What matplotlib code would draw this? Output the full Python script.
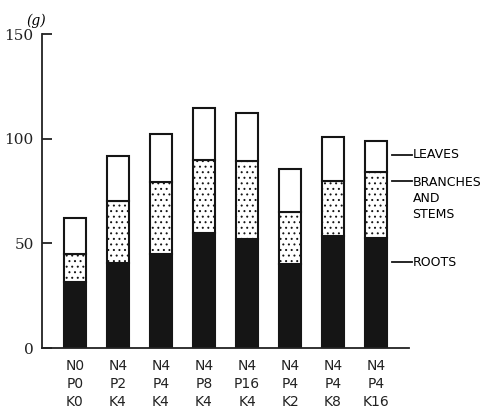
import matplotlib
matplotlib.use("Agg")
import matplotlib.pyplot as plt
import numpy as np

categories = ["N0\nP0\nK0", "N4\nP2\nK4", "N4\nP4\nK4", "N4\nP8\nK4",
              "N4\nP16\nK4", "N4\nP4\nK2", "N4\nP4\nK8", "N4\nP4\nK16"]
roots = [31.5, 40.5, 45, 55, 52, 40, 53.5, 52.5]
stems_top = [45, 70, 79.5, 90, 89.5, 65, 80, 84]
totals = [62, 91.7, 102, 114.7, 112.3, 85.5, 100.8, 99]
yticks = [0, 50, 100, 150]
legend_labels = ["LEAVES", "BRANCHES\nAND\nSTEMS", "ROOTS"]

roots = np.array(roots)
stems = np.array(stems_top) - roots
leaves = np.array(totals) - np.array(stems_top)

plt.rcParams['hatch.linewidth'] = 0.7
fig = plt.figure(figsize=(4.84, 4.09), dpi=100)
ax = fig.add_axes([42/484, 61/409, 367/484, 314/409])
x = np.arange(len(categories))
w = 0.51
ax.bar(x, roots, w, color="#151515", edgecolor="#151515", linewidth=1.5)
ax.bar(x, stems, w, bottom=roots, color="white", edgecolor="#151515",
       linewidth=1.5, hatch="...")
ax.bar(x, leaves, w, bottom=roots + stems, color="white", edgecolor="#151515",
       linewidth=1.5)

ax.set_xlim(-0.767, 7.767)
ax.set_ylim(0, 150)
ax.spines['top'].set_visible(False)
ax.spines['right'].set_visible(False)
for s in ['left', 'bottom']:
    ax.spines[s].set_linewidth(1.3)
    ax.spines[s].set_color("#222222")
ax.set_yticks(yticks)
ax.set_yticklabels([str(v) for v in yticks], family="DejaVu Serif", fontsize=11)
ax.tick_params(axis='y', direction='in', length=7, width=1.3, pad=6, colors="#222222")
ax.set_xticks(x)
ax.set_xticklabels(categories, fontsize=10, linespacing=1.35)
ax.tick_params(axis='x', length=0, pad=8, colors="#222222")

ax.text(-0.9, 153, "(g)", family="DejaVu Serif", style="italic",
        fontsize=10, ha="center", va="bottom", transform=ax.transData, clip_on=False)

# side labels with leader lines
last = len(categories) - 1
label_y = [155, 181, 262]
for lab, py in zip(legend_labels, label_y):
    yv = (348 - py) / (314 / 150)
    ax.plot([last + 0.37, last + 0.83], [yv, yv], color="#151515", lw=1.3, clip_on=False)
    ax.text(last + 0.85, yv + (2.5 if "\n" in lab else 0), lab, fontsize=9,
            ha="left", va="top" if "\n" in lab else "center",
            linespacing=1.3, clip_on=False, transform=ax.transData)

fig.savefig("out.png", dpi=100)
